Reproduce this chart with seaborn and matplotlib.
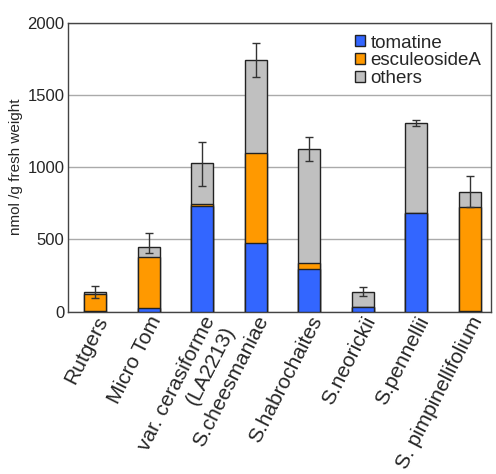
import matplotlib
matplotlib.use("Agg")
import matplotlib.pyplot as plt
import seaborn as sns
import numpy as np
import pandas as pd

categories = ["Rutgers", "Micro Tom", "var. cerasiforme\n(LA2213)", "S.cheesmaniae",
              "S.habrochaites", "S.neorickii", "S.pennellii", "S. pimpinellifolium"]
tomatine = [5, 23, 734, 475, 293, 30, 681, 5]
esculeosideA = [117, 356, 13, 625, 42, 0, 0, 717]
others = [16, 69, 280, 640, 789, 108, 625, 106]
err_low = [40, 42, 157, 114, 81, 29, 23, 104]
err_high = [40, 99, 147, 121, 85, 35, 23, 111]
series_names = ["tomatine", "esculeosideA", "others"]
yticks = [0, 500, 1000, 1500, 2000]

sns.set_style("white")
plt.rcParams["font.family"] = ["Liberation Sans", "DejaVu Sans"]

c_blue = "#3366FF"
c_orange = "#FF9900"
c_gray = "#C0C0C0"

tom = np.array(tomatine, float)
esc = np.array(esculeosideA, float)
oth = np.array(others, float)
df = pd.DataFrame({
    "cat": categories,
    "level1": tom,
    "level2": tom + esc,
    "level3": tom + esc + oth,
})

fig = plt.figure(figsize=(4.96, 4.74), dpi=100)
ax = fig.add_axes([68 / 496, 1 - 311.7 / 474, (491 - 68) / 496, (311.7 - 22.7) / 474])

for col, color in [("level3", c_gray), ("level2", c_orange), ("level1", c_blue)]:
    sns.barplot(data=df, x="cat", y=col, color=color, order=categories,
                width=0.41, edgecolor="#222222", linewidth=1.0, saturation=1,
                errorbar=None, ax=ax, zorder=3)

xpos = np.arange(len(categories))
ax.errorbar(xpos, df["level3"], yerr=[err_low, err_high], fmt="none",
            ecolor="#333333", elinewidth=1.0, capsize=2.8, capthick=1.0, zorder=5)

ax.set_xlim(-0.505, 7.40)
ax.set_ylim(0, 2000)
ax.set_yticks(yticks)
ax.set_yticklabels([str(v) for v in yticks], fontsize=12)
ax.yaxis.grid(True, color="#AAAAAA", linewidth=1.0, zorder=0)
ax.set_axisbelow(True)
ax.tick_params(axis="y", length=0, pad=2.5)

ax.set_xlabel("")
ax.set_ylabel("nmol /g fresh weight", fontsize=11, labelpad=3)
ax.set_xticks(xpos)
ax.set_xticklabels(categories, rotation=63, ha="right", va="top",
                   rotation_mode="anchor", fontsize=15)
ax.tick_params(axis="x", length=0, pad=1)
ax.set_xticks(np.arange(0.5, 7.0, 1.0), minor=True)
ax.tick_params(axis="x", which="minor", direction="in", length=4, color="#888888", width=0.8)

for s in ["left", "bottom", "top", "right"]:
    ax.spines[s].set_visible(True)
    ax.spines[s].set_color("#444444")
    ax.spines[s].set_linewidth(1.0)

from matplotlib.patches import Patch
handles = [Patch(facecolor=c, edgecolor="#222222", linewidth=1.0) for c in [c_blue, c_orange, c_gray]]
leg = ax.legend(handles, series_names, loc="upper right", frameon=False, fontsize=13.5,
                handlelength=0.52, handleheight=0.52, handletextpad=0.3,
                labelspacing=0.05, borderaxespad=0.0, bbox_to_anchor=(0.995, 0.985))

fig.savefig("out.png", dpi=100)
